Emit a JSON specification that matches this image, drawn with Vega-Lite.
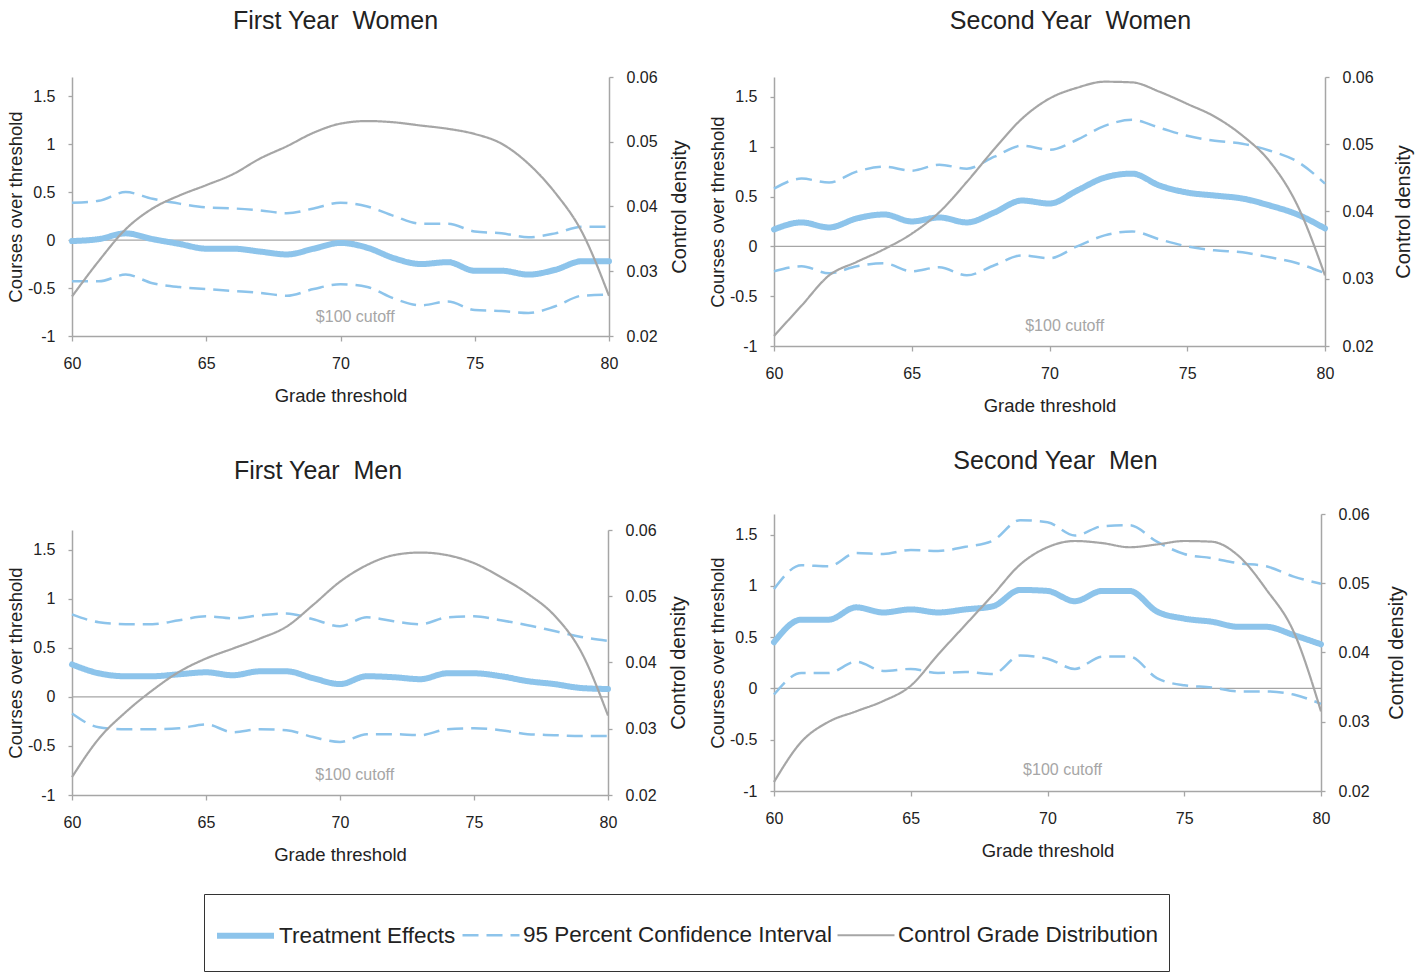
{
  "$schema": "https://vega.github.io/schema/vega-lite/v6.json",
  "padding": {"left": 6, "top": 9, "right": 5, "bottom": 0},
  "background": "white",
  "config": {
    "view": {"stroke": null},
    "font": "Liberation Sans",
    "axis": {"grid": false, "labelFlush": false, "domainColor": "#a6a6a6", "domainWidth": 1.5, "tickColor": "#a6a6a6", "tickWidth": 1.3, "tickSize": 4, "labelFont": "Liberation Sans", "labelFontSize": 16, "labelColor": "#222222", "titleFont": "Liberation Sans", "titleFontSize": 18.5, "titleFontWeight": "normal", "titleColor": "#222222", "labelPadding": 13},
    "axisX": {"labelPadding": 14, "titlePadding": 15, "tickSize": 5},
    "axisLeft": {"titlePadding": 2},
    "axisRight": {"titlePadding": 12, "titleAngle": 270, "titleBaseline": "top", "titleFontSize": 20},
    "title": {"font": "Liberation Sans", "fontSize": 25, "fontWeight": "normal", "color": "#222222", "baseline": "alphabetic", "anchor": "middle", "frame": "group"},
    "legend": {"symbolType": "stroke", "symbolSize": 3249, "labelFont": "Liberation Sans", "labelFontSize": 22.5, "labelColor": "#222222", "labelOffset": 2, "columnPadding": 1, "padding": 10, "strokeColor": "#333333", "labelLimit": 500, "titleOrient": "bottom", "titleFontSize": 12, "titlePadding": 2}
  },
  "datasets": {
    "fyw": [
      {"grade": 60, "te": -0.01, "lo": -0.43, "hi": 0.39, "dens": 0.0261},
      {"grade": 61, "te": 0.01, "lo": -0.43, "hi": 0.41, "dens": 0.0316},
      {"grade": 62, "te": 0.07, "lo": -0.36, "hi": 0.50, "dens": 0.0365},
      {"grade": 63, "te": 0.01, "lo": -0.45, "hi": 0.43, "dens": 0.0397},
      {"grade": 64, "te": -0.04, "lo": -0.49, "hi": 0.38, "dens": 0.0417},
      {"grade": 65, "te": -0.09, "lo": -0.51, "hi": 0.34, "dens": 0.0433},
      {"grade": 66, "te": -0.09, "lo": -0.53, "hi": 0.33, "dens": 0.0450},
      {"grade": 67, "te": -0.12, "lo": -0.55, "hi": 0.31, "dens": 0.0474},
      {"grade": 68, "te": -0.15, "lo": -0.58, "hi": 0.28, "dens": 0.0493},
      {"grade": 69, "te": -0.09, "lo": -0.51, "hi": 0.33, "dens": 0.0514},
      {"grade": 70, "te": -0.03, "lo": -0.46, "hi": 0.39, "dens": 0.0528},
      {"grade": 71, "te": -0.08, "lo": -0.49, "hi": 0.35, "dens": 0.0532},
      {"grade": 72, "te": -0.19, "lo": -0.61, "hi": 0.25, "dens": 0.0530},
      {"grade": 73, "te": -0.25, "lo": -0.68, "hi": 0.17, "dens": 0.0525},
      {"grade": 74, "te": -0.23, "lo": -0.64, "hi": 0.17, "dens": 0.0520},
      {"grade": 75, "te": -0.32, "lo": -0.73, "hi": 0.09, "dens": 0.0512},
      {"grade": 76, "te": -0.32, "lo": -0.74, "hi": 0.07, "dens": 0.0497},
      {"grade": 77, "te": -0.36, "lo": -0.76, "hi": 0.03, "dens": 0.0466},
      {"grade": 78, "te": -0.31, "lo": -0.69, "hi": 0.07, "dens": 0.0421},
      {"grade": 79, "te": -0.22, "lo": -0.58, "hi": 0.14, "dens": 0.0360},
      {"grade": 80, "te": -0.22, "lo": -0.57, "hi": 0.14, "dens": 0.0262}
    ],
    "syw": [
      {"grade": 60, "te": 0.17, "lo": -0.25, "hi": 0.58, "dens": 0.0215},
      {"grade": 61, "te": 0.24, "lo": -0.20, "hi": 0.68, "dens": 0.0260},
      {"grade": 62, "te": 0.19, "lo": -0.27, "hi": 0.64, "dens": 0.0305},
      {"grade": 63, "te": 0.28, "lo": -0.20, "hi": 0.75, "dens": 0.0325},
      {"grade": 64, "te": 0.32, "lo": -0.17, "hi": 0.80, "dens": 0.0344},
      {"grade": 65, "te": 0.25, "lo": -0.25, "hi": 0.76, "dens": 0.0367},
      {"grade": 66, "te": 0.29, "lo": -0.21, "hi": 0.82, "dens": 0.0399},
      {"grade": 67, "te": 0.24, "lo": -0.29, "hi": 0.78, "dens": 0.0444},
      {"grade": 68, "te": 0.34, "lo": -0.19, "hi": 0.90, "dens": 0.0493},
      {"grade": 69, "te": 0.46, "lo": -0.09, "hi": 1.01, "dens": 0.0538},
      {"grade": 70, "te": 0.43, "lo": -0.12, "hi": 0.97, "dens": 0.0568},
      {"grade": 71, "te": 0.56, "lo": 0.00, "hi": 1.07, "dens": 0.0584},
      {"grade": 72, "te": 0.69, "lo": 0.11, "hi": 1.21, "dens": 0.0593},
      {"grade": 73, "te": 0.73, "lo": 0.15, "hi": 1.27, "dens": 0.0592},
      {"grade": 74, "te": 0.61, "lo": 0.07, "hi": 1.19, "dens": 0.0578},
      {"grade": 75, "te": 0.54, "lo": 0.00, "hi": 1.11, "dens": 0.0560},
      {"grade": 76, "te": 0.51, "lo": -0.04, "hi": 1.06, "dens": 0.0541},
      {"grade": 77, "te": 0.48, "lo": -0.06, "hi": 1.03, "dens": 0.0513},
      {"grade": 78, "te": 0.41, "lo": -0.11, "hi": 0.96, "dens": 0.0474},
      {"grade": 79, "te": 0.32, "lo": -0.17, "hi": 0.85, "dens": 0.0409},
      {"grade": 80, "te": 0.18, "lo": -0.27, "hi": 0.63, "dens": 0.0305}
    ],
    "fym": [
      {"grade": 60, "te": 0.33, "lo": -0.17, "hi": 0.84, "dens": 0.0227},
      {"grade": 61, "te": 0.24, "lo": -0.31, "hi": 0.76, "dens": 0.0285},
      {"grade": 62, "te": 0.21, "lo": -0.33, "hi": 0.74, "dens": 0.0325},
      {"grade": 63, "te": 0.21, "lo": -0.33, "hi": 0.74, "dens": 0.0358},
      {"grade": 64, "te": 0.23, "lo": -0.32, "hi": 0.78, "dens": 0.0386},
      {"grade": 65, "te": 0.25, "lo": -0.28, "hi": 0.82, "dens": 0.0406},
      {"grade": 66, "te": 0.22, "lo": -0.36, "hi": 0.80, "dens": 0.0421},
      {"grade": 67, "te": 0.26, "lo": -0.33, "hi": 0.83, "dens": 0.0436},
      {"grade": 68, "te": 0.26, "lo": -0.34, "hi": 0.85, "dens": 0.0454},
      {"grade": 69, "te": 0.19, "lo": -0.41, "hi": 0.79, "dens": 0.0487},
      {"grade": 70, "te": 0.13, "lo": -0.46, "hi": 0.72, "dens": 0.0522},
      {"grade": 71, "te": 0.21, "lo": -0.38, "hi": 0.81, "dens": 0.0547},
      {"grade": 72, "te": 0.20, "lo": -0.38, "hi": 0.77, "dens": 0.0562},
      {"grade": 73, "te": 0.18, "lo": -0.39, "hi": 0.74, "dens": 0.0566},
      {"grade": 74, "te": 0.24, "lo": -0.33, "hi": 0.81, "dens": 0.0562},
      {"grade": 75, "te": 0.24, "lo": -0.32, "hi": 0.82, "dens": 0.0550},
      {"grade": 76, "te": 0.21, "lo": -0.34, "hi": 0.78, "dens": 0.0529},
      {"grade": 77, "te": 0.16, "lo": -0.38, "hi": 0.73, "dens": 0.0504},
      {"grade": 78, "te": 0.13, "lo": -0.39, "hi": 0.67, "dens": 0.0471},
      {"grade": 79, "te": 0.09, "lo": -0.40, "hi": 0.61, "dens": 0.0416},
      {"grade": 80, "te": 0.08, "lo": -0.40, "hi": 0.57, "dens": 0.0320}
    ],
    "sym": [
      {"grade": 60, "te": 0.45, "lo": -0.06, "hi": 0.97, "dens": 0.0213},
      {"grade": 61, "te": 0.67, "lo": 0.15, "hi": 1.20, "dens": 0.0271},
      {"grade": 62, "te": 0.67, "lo": 0.15, "hi": 1.19, "dens": 0.0300},
      {"grade": 63, "te": 0.79, "lo": 0.26, "hi": 1.32, "dens": 0.0315},
      {"grade": 64, "te": 0.74, "lo": 0.17, "hi": 1.31, "dens": 0.0330},
      {"grade": 65, "te": 0.77, "lo": 0.19, "hi": 1.35, "dens": 0.0352},
      {"grade": 66, "te": 0.74, "lo": 0.15, "hi": 1.34, "dens": 0.0397},
      {"grade": 67, "te": 0.77, "lo": 0.16, "hi": 1.38, "dens": 0.0440},
      {"grade": 68, "te": 0.80, "lo": 0.14, "hi": 1.44, "dens": 0.0483},
      {"grade": 69, "te": 0.96, "lo": 0.32, "hi": 1.64, "dens": 0.0527},
      {"grade": 70, "te": 0.95, "lo": 0.29, "hi": 1.62, "dens": 0.0552},
      {"grade": 71, "te": 0.85, "lo": 0.19, "hi": 1.49, "dens": 0.0561},
      {"grade": 72, "te": 0.95, "lo": 0.31, "hi": 1.58, "dens": 0.0558},
      {"grade": 73, "te": 0.95, "lo": 0.31, "hi": 1.59, "dens": 0.0552},
      {"grade": 74, "te": 0.75, "lo": 0.10, "hi": 1.43, "dens": 0.0556},
      {"grade": 75, "te": 0.68, "lo": 0.03, "hi": 1.31, "dens": 0.0561},
      {"grade": 76, "te": 0.65, "lo": 0.01, "hi": 1.27, "dens": 0.0560},
      {"grade": 77, "te": 0.60, "lo": -0.03, "hi": 1.22, "dens": 0.0539},
      {"grade": 78, "te": 0.60, "lo": -0.03, "hi": 1.19, "dens": 0.0491},
      {"grade": 79, "te": 0.52, "lo": -0.06, "hi": 1.09, "dens": 0.0430},
      {"grade": 80, "te": 0.43, "lo": -0.15, "hi": 1.02, "dens": 0.0315}
    ]
  },
  "spacing": 18,
  "hconcat": [
    {
      "spacing": 54,
      "vconcat": [
        {
          "width": 537, "height": 259,
          "title": {"text": "First Year \u00a0Women", "offset": 35, "dx": -5},
          "data": {"name": "fyw"},
          "resolve": {"scale": {"y": "independent"}},
          "layer": [
            {"layer": [
              {"data": {"values": [{}]}, "mark": {"type": "rule", "color": "#a6a6a6", "strokeWidth": 1.3},
               "encoding": {"y": {"datum": 0, "type": "quantitative", "scale": {"domain": [-1, 1.7], "nice": false, "zero": false}, "axis": {"title": "Courses over threshold", "orient": "left", "values": [-1, -0.5, 0, 0.5, 1, 1.5], "labelExpr": "'' + datum.value"}}}},
              {"mark": {"type": "line", "interpolate": "monotone", "strokeCap": "round"},
               "encoding": {
                 "x": {"field": "grade", "type": "quantitative", "scale": {"domain": [60, 80], "nice": false, "zero": false}, "axis": {"title": "Grade threshold", "values": [60, 65, 70, 75, 80]}},
                 "y": {"field": "te", "type": "quantitative", "scale": {"domain": [-1, 1.7], "nice": false, "zero": false}, "axis": {"title": "Courses over threshold", "orient": "left", "values": [-1, -0.5, 0, 0.5, 1, 1.5], "labelExpr": "'' + datum.value"}},
                 "color": {"datum": "Treatment Effects", "type": "nominal", "scale": {"domain": ["Treatment Effects", "95 Percent Confidence Interval", "Control Grade Distribution"], "range": ["#8dc4eb", "#8dc4eb", "#a6a6a6"]}, "legend": {"title": " ", "orient": "none", "legendX": 132, "legendY": 817, "direction": "horizontal"}},
                 "strokeDash": {"datum": "Treatment Effects", "type": "nominal", "scale": {"domain": ["Treatment Effects", "95 Percent Confidence Interval", "Control Grade Distribution"], "range": [[1, 0], [16, 8], [1, 0]]}, "legend": {"title": " ", "orient": "none", "legendX": 132, "legendY": 817, "direction": "horizontal"}},
                 "strokeWidth": {"datum": "Treatment Effects", "type": "nominal", "scale": {"type": "ordinal", "domain": ["Treatment Effects", "95 Percent Confidence Interval", "Control Grade Distribution"], "range": [6, 2.5, 2.2]}, "legend": {"title": " ", "orient": "none", "legendX": 132, "legendY": 817, "direction": "horizontal"}}}},
              {"transform": [{"fold": ["lo", "hi"], "as": ["bound", "ci"]}],
               "mark": {"type": "line", "interpolate": "monotone"},
               "encoding": {
                 "x": {"field": "grade", "type": "quantitative", "scale": {"domain": [60, 80], "nice": false, "zero": false}, "axis": {"title": "Grade threshold", "values": [60, 65, 70, 75, 80]}},
                 "y": {"field": "ci", "type": "quantitative", "scale": {"domain": [-1, 1.7], "nice": false, "zero": false}, "axis": {"title": "Courses over threshold", "orient": "left", "values": [-1, -0.5, 0, 0.5, 1, 1.5], "labelExpr": "'' + datum.value"}},
                 "detail": {"field": "bound", "type": "nominal"},
                 "color": {"datum": "95 Percent Confidence Interval", "type": "nominal", "scale": {"domain": ["Treatment Effects", "95 Percent Confidence Interval", "Control Grade Distribution"], "range": ["#8dc4eb", "#8dc4eb", "#a6a6a6"]}, "legend": {"title": " ", "orient": "none", "legendX": 132, "legendY": 817, "direction": "horizontal"}},
                 "strokeDash": {"datum": "95 Percent Confidence Interval", "type": "nominal", "scale": {"domain": ["Treatment Effects", "95 Percent Confidence Interval", "Control Grade Distribution"], "range": [[1, 0], [16, 8], [1, 0]]}, "legend": {"title": " ", "orient": "none", "legendX": 132, "legendY": 817, "direction": "horizontal"}},
                 "strokeWidth": {"datum": "95 Percent Confidence Interval", "type": "nominal", "scale": {"type": "ordinal", "domain": ["Treatment Effects", "95 Percent Confidence Interval", "Control Grade Distribution"], "range": [6, 2.5, 2.2]}, "legend": {"title": " ", "orient": "none", "legendX": 132, "legendY": 817, "direction": "horizontal"}}}},
              {"data": {"values": [{"t": "$100 cutoff"}]}, "mark": {"type": "text", "color": "#a6a6a6", "fontSize": 16, "align": "center", "baseline": "middle"},
               "encoding": {
                 "x": {"datum": 70.55, "type": "quantitative", "scale": {"domain": [60, 80], "nice": false, "zero": false}, "axis": {"title": "Grade threshold", "values": [60, 65, 70, 75, 80]}},
                 "y": {"datum": -0.8, "type": "quantitative", "scale": {"domain": [-1, 1.7], "nice": false, "zero": false}, "axis": {"title": "Courses over threshold", "orient": "left", "values": [-1, -0.5, 0, 0.5, 1, 1.5], "labelExpr": "'' + datum.value"}},
                 "text": {"field": "t"}}}
            ]},
            {"mark": {"type": "line", "interpolate": "monotone"},
             "encoding": {
               "x": {"field": "grade", "type": "quantitative", "scale": {"domain": [60, 80], "nice": false, "zero": false}, "axis": {"title": "Grade threshold", "values": [60, 65, 70, 75, 80]}},
               "y": {"field": "dens", "type": "quantitative", "scale": {"domain": [0.02, 0.06], "nice": false, "zero": false}, "axis": {"title": "Control density", "orient": "right", "values": [0.02, 0.03, 0.04, 0.05, 0.06], "labelExpr": "'' + datum.value"}},
               "color": {"datum": "Control Grade Distribution", "type": "nominal", "scale": {"domain": ["Treatment Effects", "95 Percent Confidence Interval", "Control Grade Distribution"], "range": ["#8dc4eb", "#8dc4eb", "#a6a6a6"]}, "legend": {"title": " ", "orient": "none", "legendX": 132, "legendY": 817, "direction": "horizontal"}},
               "strokeDash": {"datum": "Control Grade Distribution", "type": "nominal", "scale": {"domain": ["Treatment Effects", "95 Percent Confidence Interval", "Control Grade Distribution"], "range": [[1, 0], [16, 8], [1, 0]]}, "legend": {"title": " ", "orient": "none", "legendX": 132, "legendY": 817, "direction": "horizontal"}},
               "strokeWidth": {"datum": "Control Grade Distribution", "type": "nominal", "scale": {"type": "ordinal", "domain": ["Treatment Effects", "95 Percent Confidence Interval", "Control Grade Distribution"], "range": [6, 2.5, 2.2]}, "legend": {"title": " ", "orient": "none", "legendX": 132, "legendY": 817, "direction": "horizontal"}}}}
          ]
        },
        {
          "width": 536, "height": 265,
          "title": {"text": "First Year \u00a0Men", "offset": 38, "dx": -22},
          "data": {"name": "fym"},
          "resolve": {"scale": {"y": "independent"}},
          "layer": [
            {"layer": [
              {"data": {"values": [{}]}, "mark": {"type": "rule", "color": "#a6a6a6", "strokeWidth": 1.3},
               "encoding": {"y": {"datum": 0, "type": "quantitative", "scale": {"domain": [-1, 1.7], "nice": false, "zero": false}, "axis": {"title": "Courses over threshold", "orient": "left", "values": [-1, -0.5, 0, 0.5, 1, 1.5], "labelExpr": "'' + datum.value"}}}},
              {"mark": {"type": "line", "interpolate": "monotone", "strokeCap": "round"},
               "encoding": {
                 "x": {"field": "grade", "type": "quantitative", "scale": {"domain": [60, 80], "nice": false, "zero": false}, "axis": {"title": "Grade threshold", "values": [60, 65, 70, 75, 80]}},
                 "y": {"field": "te", "type": "quantitative", "scale": {"domain": [-1, 1.7], "nice": false, "zero": false}, "axis": {"title": "Courses over threshold", "orient": "left", "values": [-1, -0.5, 0, 0.5, 1, 1.5], "labelExpr": "'' + datum.value"}},
                 "color": {"datum": "Treatment Effects", "type": "nominal", "scale": {"domain": ["Treatment Effects", "95 Percent Confidence Interval", "Control Grade Distribution"], "range": ["#8dc4eb", "#8dc4eb", "#a6a6a6"]}, "legend": {"title": " ", "orient": "none", "legendX": 132, "legendY": 817, "direction": "horizontal"}},
                 "strokeDash": {"datum": "Treatment Effects", "type": "nominal", "scale": {"domain": ["Treatment Effects", "95 Percent Confidence Interval", "Control Grade Distribution"], "range": [[1, 0], [16, 8], [1, 0]]}, "legend": {"title": " ", "orient": "none", "legendX": 132, "legendY": 817, "direction": "horizontal"}},
                 "strokeWidth": {"datum": "Treatment Effects", "type": "nominal", "scale": {"type": "ordinal", "domain": ["Treatment Effects", "95 Percent Confidence Interval", "Control Grade Distribution"], "range": [6, 2.5, 2.2]}, "legend": {"title": " ", "orient": "none", "legendX": 132, "legendY": 817, "direction": "horizontal"}}}},
              {"transform": [{"fold": ["lo", "hi"], "as": ["bound", "ci"]}],
               "mark": {"type": "line", "interpolate": "monotone"},
               "encoding": {
                 "x": {"field": "grade", "type": "quantitative", "scale": {"domain": [60, 80], "nice": false, "zero": false}, "axis": {"title": "Grade threshold", "values": [60, 65, 70, 75, 80]}},
                 "y": {"field": "ci", "type": "quantitative", "scale": {"domain": [-1, 1.7], "nice": false, "zero": false}, "axis": {"title": "Courses over threshold", "orient": "left", "values": [-1, -0.5, 0, 0.5, 1, 1.5], "labelExpr": "'' + datum.value"}},
                 "detail": {"field": "bound", "type": "nominal"},
                 "color": {"datum": "95 Percent Confidence Interval", "type": "nominal", "scale": {"domain": ["Treatment Effects", "95 Percent Confidence Interval", "Control Grade Distribution"], "range": ["#8dc4eb", "#8dc4eb", "#a6a6a6"]}, "legend": {"title": " ", "orient": "none", "legendX": 132, "legendY": 817, "direction": "horizontal"}},
                 "strokeDash": {"datum": "95 Percent Confidence Interval", "type": "nominal", "scale": {"domain": ["Treatment Effects", "95 Percent Confidence Interval", "Control Grade Distribution"], "range": [[1, 0], [16, 8], [1, 0]]}, "legend": {"title": " ", "orient": "none", "legendX": 132, "legendY": 817, "direction": "horizontal"}},
                 "strokeWidth": {"datum": "95 Percent Confidence Interval", "type": "nominal", "scale": {"type": "ordinal", "domain": ["Treatment Effects", "95 Percent Confidence Interval", "Control Grade Distribution"], "range": [6, 2.5, 2.2]}, "legend": {"title": " ", "orient": "none", "legendX": 132, "legendY": 817, "direction": "horizontal"}}}},
              {"data": {"values": [{"t": "$100 cutoff"}]}, "mark": {"type": "text", "color": "#a6a6a6", "fontSize": 16, "align": "center", "baseline": "middle"},
               "encoding": {
                 "x": {"datum": 70.55, "type": "quantitative", "scale": {"domain": [60, 80], "nice": false, "zero": false}, "axis": {"title": "Grade threshold", "values": [60, 65, 70, 75, 80]}},
                 "y": {"datum": -0.8, "type": "quantitative", "scale": {"domain": [-1, 1.7], "nice": false, "zero": false}, "axis": {"title": "Courses over threshold", "orient": "left", "values": [-1, -0.5, 0, 0.5, 1, 1.5], "labelExpr": "'' + datum.value"}},
                 "text": {"field": "t"}}}
            ]},
            {"mark": {"type": "line", "interpolate": "monotone"},
             "encoding": {
               "x": {"field": "grade", "type": "quantitative", "scale": {"domain": [60, 80], "nice": false, "zero": false}, "axis": {"title": "Grade threshold", "values": [60, 65, 70, 75, 80]}},
               "y": {"field": "dens", "type": "quantitative", "scale": {"domain": [0.02, 0.06], "nice": false, "zero": false}, "axis": {"title": "Control density", "orient": "right", "values": [0.02, 0.03, 0.04, 0.05, 0.06], "labelExpr": "'' + datum.value"}},
               "color": {"datum": "Control Grade Distribution", "type": "nominal", "scale": {"domain": ["Treatment Effects", "95 Percent Confidence Interval", "Control Grade Distribution"], "range": ["#8dc4eb", "#8dc4eb", "#a6a6a6"]}, "legend": {"title": " ", "orient": "none", "legendX": 132, "legendY": 817, "direction": "horizontal"}},
               "strokeDash": {"datum": "Control Grade Distribution", "type": "nominal", "scale": {"domain": ["Treatment Effects", "95 Percent Confidence Interval", "Control Grade Distribution"], "range": [[1, 0], [16, 8], [1, 0]]}, "legend": {"title": " ", "orient": "none", "legendX": 132, "legendY": 817, "direction": "horizontal"}},
               "strokeWidth": {"datum": "Control Grade Distribution", "type": "nominal", "scale": {"type": "ordinal", "domain": ["Treatment Effects", "95 Percent Confidence Interval", "Control Grade Distribution"], "range": [6, 2.5, 2.2]}, "legend": {"title": " ", "orient": "none", "legendX": 132, "legendY": 817, "direction": "horizontal"}}}}
          ]
        }
      ]
    },
    {
      "spacing": 34,
      "vconcat": [
        {
          "width": 551, "height": 269,
          "title": {"text": "Second Year \u00a0Women", "offset": 35, "dx": 21},
          "data": {"name": "syw"},
          "resolve": {"scale": {"y": "independent"}},
          "layer": [
            {"layer": [
              {"data": {"values": [{}]}, "mark": {"type": "rule", "color": "#a6a6a6", "strokeWidth": 1.3},
               "encoding": {"y": {"datum": 0, "type": "quantitative", "scale": {"domain": [-1, 1.7], "nice": false, "zero": false}, "axis": {"title": "Courses over threshold", "orient": "left", "values": [-1, -0.5, 0, 0.5, 1, 1.5], "labelExpr": "'' + datum.value"}}}},
              {"mark": {"type": "line", "interpolate": "monotone", "strokeCap": "round"},
               "encoding": {
                 "x": {"field": "grade", "type": "quantitative", "scale": {"domain": [60, 80], "nice": false, "zero": false}, "axis": {"title": "Grade threshold", "values": [60, 65, 70, 75, 80]}},
                 "y": {"field": "te", "type": "quantitative", "scale": {"domain": [-1, 1.7], "nice": false, "zero": false}, "axis": {"title": "Courses over threshold", "orient": "left", "values": [-1, -0.5, 0, 0.5, 1, 1.5], "labelExpr": "'' + datum.value"}},
                 "color": {"datum": "Treatment Effects", "type": "nominal", "scale": {"domain": ["Treatment Effects", "95 Percent Confidence Interval", "Control Grade Distribution"], "range": ["#8dc4eb", "#8dc4eb", "#a6a6a6"]}, "legend": {"title": " ", "orient": "none", "legendX": 132, "legendY": 817, "direction": "horizontal"}},
                 "strokeDash": {"datum": "Treatment Effects", "type": "nominal", "scale": {"domain": ["Treatment Effects", "95 Percent Confidence Interval", "Control Grade Distribution"], "range": [[1, 0], [16, 8], [1, 0]]}, "legend": {"title": " ", "orient": "none", "legendX": 132, "legendY": 817, "direction": "horizontal"}},
                 "strokeWidth": {"datum": "Treatment Effects", "type": "nominal", "scale": {"type": "ordinal", "domain": ["Treatment Effects", "95 Percent Confidence Interval", "Control Grade Distribution"], "range": [6, 2.5, 2.2]}, "legend": {"title": " ", "orient": "none", "legendX": 132, "legendY": 817, "direction": "horizontal"}}}},
              {"transform": [{"fold": ["lo", "hi"], "as": ["bound", "ci"]}],
               "mark": {"type": "line", "interpolate": "monotone"},
               "encoding": {
                 "x": {"field": "grade", "type": "quantitative", "scale": {"domain": [60, 80], "nice": false, "zero": false}, "axis": {"title": "Grade threshold", "values": [60, 65, 70, 75, 80]}},
                 "y": {"field": "ci", "type": "quantitative", "scale": {"domain": [-1, 1.7], "nice": false, "zero": false}, "axis": {"title": "Courses over threshold", "orient": "left", "values": [-1, -0.5, 0, 0.5, 1, 1.5], "labelExpr": "'' + datum.value"}},
                 "detail": {"field": "bound", "type": "nominal"},
                 "color": {"datum": "95 Percent Confidence Interval", "type": "nominal", "scale": {"domain": ["Treatment Effects", "95 Percent Confidence Interval", "Control Grade Distribution"], "range": ["#8dc4eb", "#8dc4eb", "#a6a6a6"]}, "legend": {"title": " ", "orient": "none", "legendX": 132, "legendY": 817, "direction": "horizontal"}},
                 "strokeDash": {"datum": "95 Percent Confidence Interval", "type": "nominal", "scale": {"domain": ["Treatment Effects", "95 Percent Confidence Interval", "Control Grade Distribution"], "range": [[1, 0], [16, 8], [1, 0]]}, "legend": {"title": " ", "orient": "none", "legendX": 132, "legendY": 817, "direction": "horizontal"}},
                 "strokeWidth": {"datum": "95 Percent Confidence Interval", "type": "nominal", "scale": {"type": "ordinal", "domain": ["Treatment Effects", "95 Percent Confidence Interval", "Control Grade Distribution"], "range": [6, 2.5, 2.2]}, "legend": {"title": " ", "orient": "none", "legendX": 132, "legendY": 817, "direction": "horizontal"}}}},
              {"data": {"values": [{"t": "$100 cutoff"}]}, "mark": {"type": "text", "color": "#a6a6a6", "fontSize": 16, "align": "center", "baseline": "middle"},
               "encoding": {
                 "x": {"datum": 70.55, "type": "quantitative", "scale": {"domain": [60, 80], "nice": false, "zero": false}, "axis": {"title": "Grade threshold", "values": [60, 65, 70, 75, 80]}},
                 "y": {"datum": -0.8, "type": "quantitative", "scale": {"domain": [-1, 1.7], "nice": false, "zero": false}, "axis": {"title": "Courses over threshold", "orient": "left", "values": [-1, -0.5, 0, 0.5, 1, 1.5], "labelExpr": "'' + datum.value"}},
                 "text": {"field": "t"}}}
            ]},
            {"mark": {"type": "line", "interpolate": "monotone"},
             "encoding": {
               "x": {"field": "grade", "type": "quantitative", "scale": {"domain": [60, 80], "nice": false, "zero": false}, "axis": {"title": "Grade threshold", "values": [60, 65, 70, 75, 80]}},
               "y": {"field": "dens", "type": "quantitative", "scale": {"domain": [0.02, 0.06], "nice": false, "zero": false}, "axis": {"title": "Control density", "orient": "right", "titlePadding": 20, "values": [0.02, 0.03, 0.04, 0.05, 0.06], "labelExpr": "'' + datum.value"}},
               "color": {"datum": "Control Grade Distribution", "type": "nominal", "scale": {"domain": ["Treatment Effects", "95 Percent Confidence Interval", "Control Grade Distribution"], "range": ["#8dc4eb", "#8dc4eb", "#a6a6a6"]}, "legend": {"title": " ", "orient": "none", "legendX": 132, "legendY": 817, "direction": "horizontal"}},
               "strokeDash": {"datum": "Control Grade Distribution", "type": "nominal", "scale": {"domain": ["Treatment Effects", "95 Percent Confidence Interval", "Control Grade Distribution"], "range": [[1, 0], [16, 8], [1, 0]]}, "legend": {"title": " ", "orient": "none", "legendX": 132, "legendY": 817, "direction": "horizontal"}},
               "strokeWidth": {"datum": "Control Grade Distribution", "type": "nominal", "scale": {"type": "ordinal", "domain": ["Treatment Effects", "95 Percent Confidence Interval", "Control Grade Distribution"], "range": [6, 2.5, 2.2]}, "legend": {"title": " ", "orient": "none", "legendX": 132, "legendY": 817, "direction": "horizontal"}}}}
          ]
        },
        {
          "width": 547, "height": 277,
          "title": {"text": "Second Year \u00a0Men", "offset": 32, "dx": 8},
          "data": {"name": "sym"},
          "resolve": {"scale": {"y": "independent"}},
          "layer": [
            {"layer": [
              {"data": {"values": [{}]}, "mark": {"type": "rule", "color": "#a6a6a6", "strokeWidth": 1.3},
               "encoding": {"y": {"datum": 0, "type": "quantitative", "scale": {"domain": [-1, 1.7], "nice": false, "zero": false}, "axis": {"title": "Courses over threshold", "orient": "left", "values": [-1, -0.5, 0, 0.5, 1, 1.5], "labelExpr": "'' + datum.value"}}}},
              {"mark": {"type": "line", "interpolate": "monotone", "strokeCap": "round"},
               "encoding": {
                 "x": {"field": "grade", "type": "quantitative", "scale": {"domain": [60, 80], "nice": false, "zero": false}, "axis": {"title": "Grade threshold", "values": [60, 65, 70, 75, 80]}},
                 "y": {"field": "te", "type": "quantitative", "scale": {"domain": [-1, 1.7], "nice": false, "zero": false}, "axis": {"title": "Courses over threshold", "orient": "left", "values": [-1, -0.5, 0, 0.5, 1, 1.5], "labelExpr": "'' + datum.value"}},
                 "color": {"datum": "Treatment Effects", "type": "nominal", "scale": {"domain": ["Treatment Effects", "95 Percent Confidence Interval", "Control Grade Distribution"], "range": ["#8dc4eb", "#8dc4eb", "#a6a6a6"]}, "legend": {"title": " ", "orient": "none", "legendX": 132, "legendY": 817, "direction": "horizontal"}},
                 "strokeDash": {"datum": "Treatment Effects", "type": "nominal", "scale": {"domain": ["Treatment Effects", "95 Percent Confidence Interval", "Control Grade Distribution"], "range": [[1, 0], [16, 8], [1, 0]]}, "legend": {"title": " ", "orient": "none", "legendX": 132, "legendY": 817, "direction": "horizontal"}},
                 "strokeWidth": {"datum": "Treatment Effects", "type": "nominal", "scale": {"type": "ordinal", "domain": ["Treatment Effects", "95 Percent Confidence Interval", "Control Grade Distribution"], "range": [6, 2.5, 2.2]}, "legend": {"title": " ", "orient": "none", "legendX": 132, "legendY": 817, "direction": "horizontal"}}}},
              {"transform": [{"fold": ["lo", "hi"], "as": ["bound", "ci"]}],
               "mark": {"type": "line", "interpolate": "monotone"},
               "encoding": {
                 "x": {"field": "grade", "type": "quantitative", "scale": {"domain": [60, 80], "nice": false, "zero": false}, "axis": {"title": "Grade threshold", "values": [60, 65, 70, 75, 80]}},
                 "y": {"field": "ci", "type": "quantitative", "scale": {"domain": [-1, 1.7], "nice": false, "zero": false}, "axis": {"title": "Courses over threshold", "orient": "left", "values": [-1, -0.5, 0, 0.5, 1, 1.5], "labelExpr": "'' + datum.value"}},
                 "detail": {"field": "bound", "type": "nominal"},
                 "color": {"datum": "95 Percent Confidence Interval", "type": "nominal", "scale": {"domain": ["Treatment Effects", "95 Percent Confidence Interval", "Control Grade Distribution"], "range": ["#8dc4eb", "#8dc4eb", "#a6a6a6"]}, "legend": {"title": " ", "orient": "none", "legendX": 132, "legendY": 817, "direction": "horizontal"}},
                 "strokeDash": {"datum": "95 Percent Confidence Interval", "type": "nominal", "scale": {"domain": ["Treatment Effects", "95 Percent Confidence Interval", "Control Grade Distribution"], "range": [[1, 0], [16, 8], [1, 0]]}, "legend": {"title": " ", "orient": "none", "legendX": 132, "legendY": 817, "direction": "horizontal"}},
                 "strokeWidth": {"datum": "95 Percent Confidence Interval", "type": "nominal", "scale": {"type": "ordinal", "domain": ["Treatment Effects", "95 Percent Confidence Interval", "Control Grade Distribution"], "range": [6, 2.5, 2.2]}, "legend": {"title": " ", "orient": "none", "legendX": 132, "legendY": 817, "direction": "horizontal"}}}},
              {"data": {"values": [{"t": "$100 cutoff"}]}, "mark": {"type": "text", "color": "#a6a6a6", "fontSize": 16, "align": "center", "baseline": "middle"},
               "encoding": {
                 "x": {"datum": 70.55, "type": "quantitative", "scale": {"domain": [60, 80], "nice": false, "zero": false}, "axis": {"title": "Grade threshold", "values": [60, 65, 70, 75, 80]}},
                 "y": {"datum": -0.8, "type": "quantitative", "scale": {"domain": [-1, 1.7], "nice": false, "zero": false}, "axis": {"title": "Courses over threshold", "orient": "left", "values": [-1, -0.5, 0, 0.5, 1, 1.5], "labelExpr": "'' + datum.value"}},
                 "text": {"field": "t"}}}
            ]},
            {"mark": {"type": "line", "interpolate": "monotone"},
             "encoding": {
               "x": {"field": "grade", "type": "quantitative", "scale": {"domain": [60, 80], "nice": false, "zero": false}, "axis": {"title": "Grade threshold", "values": [60, 65, 70, 75, 80]}},
               "y": {"field": "dens", "type": "quantitative", "scale": {"domain": [0.02, 0.06], "nice": false, "zero": false}, "axis": {"title": "Control density", "orient": "right", "titlePadding": 17, "values": [0.02, 0.03, 0.04, 0.05, 0.06], "labelExpr": "'' + datum.value"}},
               "color": {"datum": "Control Grade Distribution", "type": "nominal", "scale": {"domain": ["Treatment Effects", "95 Percent Confidence Interval", "Control Grade Distribution"], "range": ["#8dc4eb", "#8dc4eb", "#a6a6a6"]}, "legend": {"title": " ", "orient": "none", "legendX": 132, "legendY": 817, "direction": "horizontal"}},
               "strokeDash": {"datum": "Control Grade Distribution", "type": "nominal", "scale": {"domain": ["Treatment Effects", "95 Percent Confidence Interval", "Control Grade Distribution"], "range": [[1, 0], [16, 8], [1, 0]]}, "legend": {"title": " ", "orient": "none", "legendX": 132, "legendY": 817, "direction": "horizontal"}},
               "strokeWidth": {"datum": "Control Grade Distribution", "type": "nominal", "scale": {"type": "ordinal", "domain": ["Treatment Effects", "95 Percent Confidence Interval", "Control Grade Distribution"], "range": [6, 2.5, 2.2]}, "legend": {"title": " ", "orient": "none", "legendX": 132, "legendY": 817, "direction": "horizontal"}}}}
          ]
        }
      ]
    }
  ]
}
